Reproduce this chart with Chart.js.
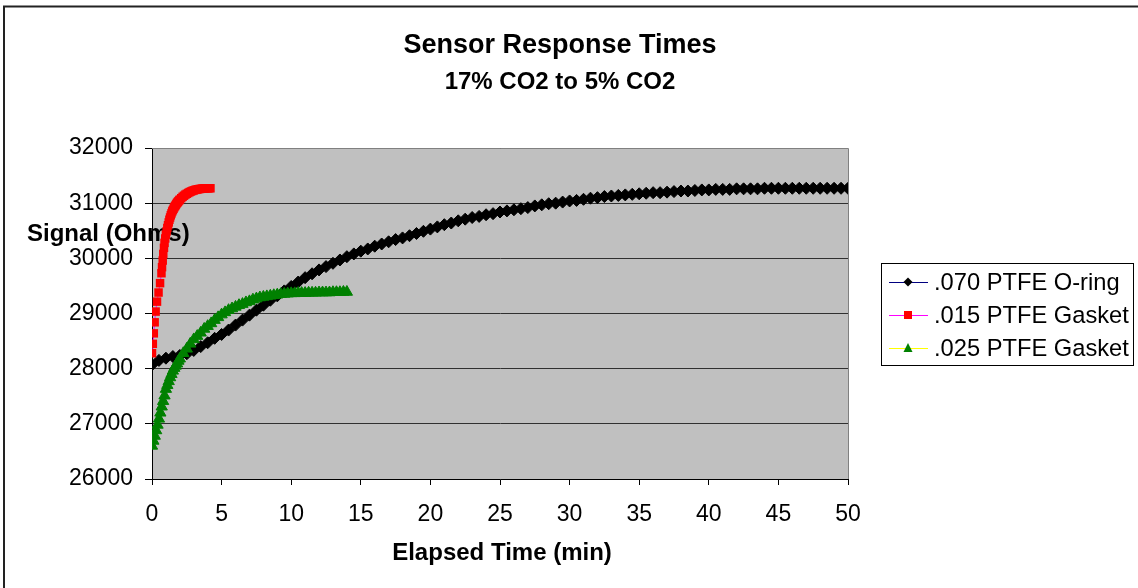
<!DOCTYPE html>
<html lang="en">
<head>
  <meta charset="UTF-8" />
  <title>Sensor Response Times</title>
  <script src="https://cdn.jsdelivr.net/npm/chart.js"></script>
  <style>
    body { margin: 0; background: #fff; }
    #wrap { width: 1138px; height: 588px; }
  </style>
</head>
<body>
  <div id="wrap"><canvas id="chart" width="1138" height="588"></canvas></div>

  <script>
    // times in min, signal in ohms
    const tOring = [0,0.5,1,1.5,2,2.5,3,3.5,4,4.5,5,5.5,6,6.5,7,7.5,8,8.5,9,9.5,10,10.5,11,11.5,12,12.5,13,13.5,14,14.5,15,15.5,16,16.5,17,17.5,18,18.5,19,19.5,20,20.5,21,21.5,22,22.5,23,23.5,24,24.5,25,25.5,26,26.5,27,27.5,28,28.5,29,29.5,30,30.5,31,31.5,32,32.5,33,33.5,34,34.5,35,35.5,36,36.5,37,37.5,38,38.5,39,39.5,40,40.5,41,41.5,42,42.5,43,43.5,44,44.5,45,45.5,46,46.5,47,47.5,48,48.5,49,49.5,50];
    const vOring = [28070,28150,28190,28220,28240,28270,28330,28400,28470,28550,28620,28700,28790,28880,28970,29060,29150,29240,29320,29410,29490,29570,29650,29720,29790,29850,29910,29970,30030,30080,30130,30170,30220,30260,30300,30340,30370,30410,30450,30490,30530,30570,30610,30640,30680,30710,30740,30760,30790,30810,30840,30860,30880,30900,30920,30950,30970,30990,31000,31020,31040,31050,31070,31090,31100,31120,31130,31140,31150,31160,31170,31180,31190,31190,31200,31210,31220,31220,31230,31240,31240,31250,31250,31250,31260,31260,31260,31260,31270,31270,31270,31270,31270,31270,31270,31270,31270,31270,31270,31270,31270];

    const tGasket15 = [0,0.06,0.13,0.19,0.26,0.36,0.47,0.58,0.68,0.72,0.77,0.81,0.86,0.9,0.95,1.0,1.05,1.1,1.15,1.2,1.25,1.3,1.35,1.4,1.45,1.5,1.55,1.6,1.65,1.7,1.75,1.8,1.85,1.9,1.95,2.0,2.1,2.2,2.3,2.4,2.5,2.6,2.7,2.8,2.9,3.0,3.1,3.2,3.3,3.4,3.5,3.6,3.7,3.8,3.9,4.0,4.1,4.2];
    const vGasket15 = [28280,28450,28640,28840,29035,29215,29380,29550,29730,29840,29960,30080,30190,30280,30360,30430,30490,30550,30600,30650,30700,30740,30780,30815,30850,30875,30900,30925,30945,30965,30985,31005,31020,31035,31050,31065,31090,31115,31135,31155,31170,31185,31200,31212,31222,31232,31240,31246,31252,31256,31260,31263,31266,31268,31270,31270,31270,31270];

    const tGasket25 = [0,0.1,0.2,0.3,0.4,0.5,0.6,0.7,0.8,0.9,1.0,1.1,1.2,1.3,1.4,1.5,1.6,1.7,1.8,1.9,2,2.25,2.5,2.75,3,3.25,3.5,3.75,4,4.25,4.5,4.75,5,5.25,5.5,5.75,6,6.25,6.5,6.75,7,7.25,7.5,7.75,8,8.25,8.5,8.75,9,9.25,9.5,9.75,10,10.25,10.5,10.75,11,11.25,11.5,11.75,12,12.25,12.5,12.75,13,13.25,13.5,13.75,14];
    const vGasket25 = [26600,26690,26780,26880,26980,27090,27200,27310,27410,27510,27630,27700,27770,27840,27900,27960,28010,28050,28090,28140,28180,28280,28360,28450,28530,28590,28650,28720,28770,28820,28880,28930,28980,29020,29060,29090,29120,29150,29170,29200,29220,29250,29270,29290,29300,29310,29320,29330,29340,29350,29355,29360,29365,29365,29370,29370,29370,29375,29375,29375,29380,29380,29380,29380,29385,29385,29385,29390,29390];

    const seriesNames = ['.070 PTFE O-ring', '.015 PTFE Gasket', '.025 PTFE Gasket'];
    const xTicks = [0, 50, 5];        // min, max, step
    const yTicks = [26000, 32000, 1000];

    const FONT = '"Liberation Sans", Arial, sans-serif';

    function pts(t, v) {
      return t.map((x, i) => ({ x: x, y: v[i] }));
    }

    // plot background, titles, legend
    const decor = {
      id: 'decor',
      beforeDraw(chart) {
        const ctx = chart.ctx, a = chart.chartArea;
        ctx.save();
        ctx.fillStyle = '#fff';
        ctx.fillRect(0, 0, chart.width, chart.height);
        ctx.fillStyle = '#C0C0C0';
        ctx.fillRect(a.left, a.top, a.right - a.left, a.bottom - a.top);
        ctx.restore();
      },
      beforeDatasetsDraw(chart) {
        const ctx = chart.ctx, a = chart.chartArea;
        ctx.save();
        // gray frame top/right
        ctx.strokeStyle = '#808080';
        ctx.lineWidth = 1;
        ctx.beginPath();
        ctx.moveTo(a.left, a.top + 0.5);
        ctx.lineTo(a.right + 0.5, a.top + 0.5);
        ctx.lineTo(a.right + 0.5, a.bottom);
        ctx.stroke();
        // y axis title sits over the plot
        ctx.fillStyle = '#000';
        ctx.font = 'bold 24px ' + FONT;
        ctx.textAlign = 'left';
        ctx.textBaseline = 'alphabetic';
        ctx.fillText('Signal (Ohms)', 27, 241);
        ctx.restore();
      },
      afterDraw(chart) {
        const ctx = chart.ctx;
        ctx.save();
        ctx.fillStyle = '#000';
        ctx.textAlign = 'center';
        ctx.textBaseline = 'alphabetic';
        ctx.font = 'bold 27px ' + FONT;
        ctx.fillText('Sensor Response Times', 560, 53);
        ctx.font = 'bold 24px ' + FONT;
        ctx.fillText('17% CO2 to 5% CO2', 560, 89);
        ctx.fillText('Elapsed Time (min)', 502, 560);

        // outer frame
        ctx.strokeStyle = '#222';
        ctx.lineWidth = 2;
        ctx.strokeRect(4, 6.5, 1140, 590);

        // legend
        ctx.lineWidth = 1;
        ctx.strokeStyle = '#000';
        ctx.fillStyle = '#fff';
        ctx.fillRect(881, 263, 252, 102);
        ctx.strokeRect(881.5, 263.5, 252, 102);
        const lineCols = ['#000080', '#FF00FF', '#FFFF00'];
        const markCols = ['#000', '#FF0000', '#008000'];
        ctx.font = '23.7px ' + FONT;
        ctx.textAlign = 'left';
        ctx.textBaseline = 'middle';
        seriesNames.forEach((name, i) => {
          const y = 282 + i * 33;
          ctx.strokeStyle = lineCols[i];
          ctx.beginPath();
          ctx.moveTo(889, y + 0.5);
          ctx.lineTo(928, y + 0.5);
          ctx.stroke();
          ctx.fillStyle = markCols[i];
          ctx.beginPath();
          if (i === 0) {
            ctx.moveTo(908, y - 4.5); ctx.lineTo(912.5, y); ctx.lineTo(908, y + 4.5); ctx.lineTo(903.5, y);
          } else if (i === 1) {
            ctx.rect(904, y - 4, 8, 8);
          } else {
            ctx.moveTo(908, y - 5); ctx.lineTo(912.5, y + 4); ctx.lineTo(903.5, y + 4);
          }
          ctx.closePath();
          ctx.fill();
          ctx.fillStyle = '#000';
          ctx.fillText(name, 934, y + 1);
        });
        ctx.restore();
      }
    };

    const ctx = document.getElementById('chart').getContext('2d');
    const chart = new Chart(ctx, {
      type: 'scatter',
      data: {
        datasets: [
          {
            label: seriesNames[0],
            data: pts(tOring, vOring),
            showLine: true,
            borderColor: '#000080',
            borderWidth: 1,
            pointStyle: 'rectRot',
            pointRadius: 6,
            pointBackgroundColor: '#000',
            pointBorderColor: '#000',
            pointBorderWidth: 1,
            order: 3
          },
          {
            label: seriesNames[1],
            data: pts(tGasket15, vGasket15),
            showLine: true,
            borderColor: '#FF00FF',
            borderWidth: 1,
            pointStyle: 'rect',
            pointRadius: 6,
            pointBackgroundColor: '#FF0000',
            pointBorderColor: '#FF0000',
            pointBorderWidth: 0,
            order: 2
          },
          {
            label: seriesNames[2],
            data: pts(tGasket25, vGasket25),
            showLine: true,
            borderColor: '#FFFF00',
            borderWidth: 1,
            pointStyle: 'triangle',
            pointRadius: 6.5,
            pointBackgroundColor: '#008000',
            pointBorderColor: '#008000',
            pointBorderWidth: 1,
            order: 1
          }
        ]
      },
      options: {
        responsive: false,
        animation: false,
        devicePixelRatio: 1,
        layout: { padding: { left: 0, top: 148, right: 290, bottom: 0 } },
        plugins: {
          legend: { display: false },
          title: { display: false },
          tooltip: { enabled: false }
        },
        elements: { line: { tension: 0 } },
        scales: {
          x: {
            type: 'linear',
            min: xTicks[0], max: xTicks[1],
            afterFit(scale) { scale.height = 109; },
            grid: { drawOnChartArea: false, drawTicks: true, tickLength: 6, tickColor: '#000' },
            border: { display: true, color: '#000', width: 1 },
            ticks: {
              stepSize: xTicks[2], autoSkip: false, maxRotation: 0,
              color: '#000', padding: 16,
              font: { family: FONT, size: 23 }
            }
          },
          y: {
            type: 'linear',
            min: yTicks[0], max: yTicks[1],
            afterFit(scale) { scale.width = 152; },
            grid: { color: '#303030', lineWidth: 1, drawTicks: true, tickLength: 7, tickColor: '#000' },
            border: { display: true, color: '#000', width: 1 },
            ticks: {
              stepSize: yTicks[2], autoSkip: false,
              color: '#000', padding: 12,
              font: { family: FONT, size: 23 },
              callback: (v) => String(v)
            }
          }
        }
      },
      plugins: [decor]
    });
  </script>
</body>
</html>
